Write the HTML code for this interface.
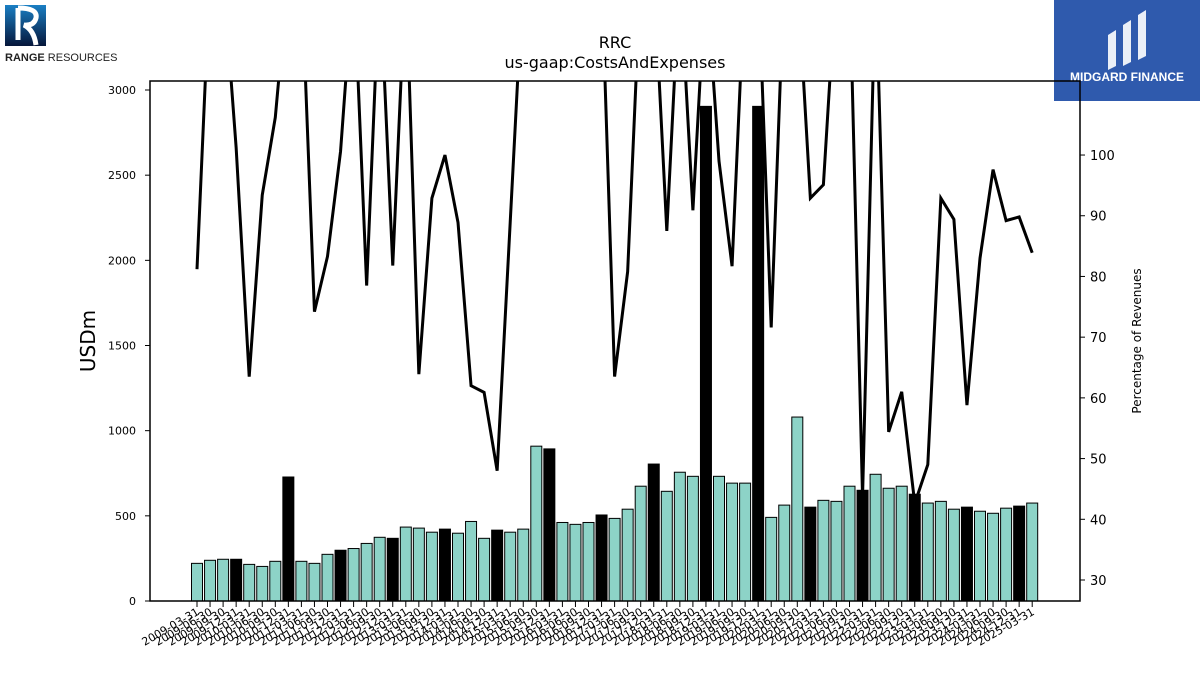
<!DOCTYPE html>
<html><head><meta charset="utf-8">
<style>
html,body{margin:0;padding:0;background:#fff;}
body{width:1200px;height:675px;overflow:hidden;font-family:"Liberation Sans","DejaVu Sans",sans-serif;}
</style></head>
<body>
<svg id="chart" width="1200" height="675" xmlns="http://www.w3.org/2000/svg" font-family="DejaVu Sans, Liberation Sans, sans-serif">
  <g>
    <defs><linearGradient id="rg" x1="0" y1="0" x2="0" y2="1"><stop offset="0" stop-color="#1a7fc4"/><stop offset="1" stop-color="#06163a"/></linearGradient></defs>
    <rect x="5" y="5" width="41" height="41" fill="url(#rg)"/>
    <path d="M18 8 L18 40 M18 8 Q38 8 36 18 Q34 26 24 25 Q34 30 36 45" stroke="#fff" stroke-width="5" fill="none"/>
    <text x="5" y="61" font-size="11" font-family="Liberation Sans, sans-serif" fill="#222"><tspan font-weight="bold">RANGE</tspan> RESOURCES</text>
  </g>
  <g>
    <rect x="1054" y="0" width="146" height="101" fill="#2f5aad"/>
    <path d="M1108 70 L1108 35 L1116 30 L1116 66 Z M1123 66 L1123 25 L1131 20 L1131 62 Z M1138 60 L1138 15 L1146 10 L1146 56 Z" fill="#fff" opacity="0.9"/>
    <text x="1127" y="81" font-size="12" font-weight="bold" fill="#fff" text-anchor="middle" font-family="Liberation Sans, sans-serif">MIDGARD FINANCE</text>
  </g>
  <text x="615" y="48" font-size="16" text-anchor="middle">RRC</text>
  <text x="615" y="68" font-size="16" text-anchor="middle">us-gaap:CostsAndExpenses</text>
  <text transform="translate(95,341) rotate(-90)" font-size="20" text-anchor="middle">USDm</text>
  <text transform="translate(1141,341) rotate(-90)" font-size="12" text-anchor="middle">Percentage of Revenues</text>
  <defs><clipPath id="pc"><rect x="150" y="81" width="930" height="520"/></clipPath></defs>
  <g id="bars"></g>
  <g id="line" clip-path="url(#pc)"></g>
  <g id="axes"></g>
  <rect x="150" y="81" width="930" height="520" fill="none" stroke="#000" stroke-width="1.5"/>
</svg>
<script>
const values = [221,239,245,245,215,203,233,728,233,221,274,298,308,338,374,368,434,428,404,422,398,467,368,416,404,422,909,893,461,450,461,505,485,539,674,804,644,756,732,2904,732,692,692,2904,491,563,1080,551,591,585,674,650,744,662,674,627,575,585,539,551,527,515,545,557,575];
const pct = [81.2,130,130,101.2,63.5,93.4,106.2,130,130,74.2,83.3,100.6,130,78.5,130,81.8,130,63.9,92.9,100,88.9,62.0,60.9,48.0,88.9,130,130,130,130,130,130,130,63.5,80.8,130,130,87.5,130,90.9,130,99.0,81.7,130,130,71.6,130,130,92.9,95.1,130,130,43.7,130,54.4,61.0,42.6,49.0,92.9,89.4,58.8,83.0,97.6,89.2,89.8,83.9];
const yTicks = [0,500,1000,1500,2000,2500,3000];
const y2Ticks = [30,40,50,60,70,80,90,100];
const labels = [];
for (let yr=2009; yr<=2025; yr++) for (const md of ["03-31","06-30","09-30","12-31"]) { if (labels.length<65) labels.push(yr+"-"+md); }

const NS="http://www.w3.org/2000/svg";
const x = i => 197 + i*13.05;
const y = v => 601 - v*0.17033;
const y2 = p => 580 - (p-30)*6.071;
function mk(tag, attrs, parent){const e=document.createElementNS(NS,tag);for(const k in attrs)e.setAttribute(k,attrs[k]);parent.appendChild(e);return e;}
const bars=document.getElementById('bars'), line=document.getElementById('line'), axes=document.getElementById('axes');
values.forEach((v,i)=>{
  const r=mk('rect',{x:x(i)-5.5,y:y(v),width:11,height:601-y(v),fill:(i%4===3)?'#000':'#8dd3c7',stroke:'#000','stroke-width':1},bars);
  
  
});
const pl=mk('polyline',{points:pct.map((p,i)=>x(i)+','+y2(p)).join(' '),fill:'none',stroke:'#000','stroke-width':3,'stroke-linejoin':'miter'},line);


yTicks.forEach(t=>{
  mk('line',{x1:145,x2:150,y1:y(t),y2:y(t),stroke:'#000','stroke-width':1},axes);
  const tx=mk('text',{x:136,y:y(t)+4,'font-size':11,'text-anchor':'end'},axes);tx.textContent=t;
  
  
});
y2Ticks.forEach(t=>{
  mk('line',{x1:1080,x2:1085,y1:y2(t),y2:y2(t),stroke:'#000','stroke-width':1},axes);
  const tx=mk('text',{x:1090,y:y2(t)+5,'font-size':13},axes);tx.textContent=t;
  
  
});
labels.forEach((l,i)=>{
  mk('line',{x1:x(i),x2:x(i),y1:601,y2:607,stroke:'#000','stroke-width':1},axes);
  const tx=mk('text',{transform:'translate('+(x(i)+3)+',614) rotate(-30)','font-size':11,'text-anchor':'end'},axes);tx.textContent=l;
  
  
});
</script>
</body></html>
